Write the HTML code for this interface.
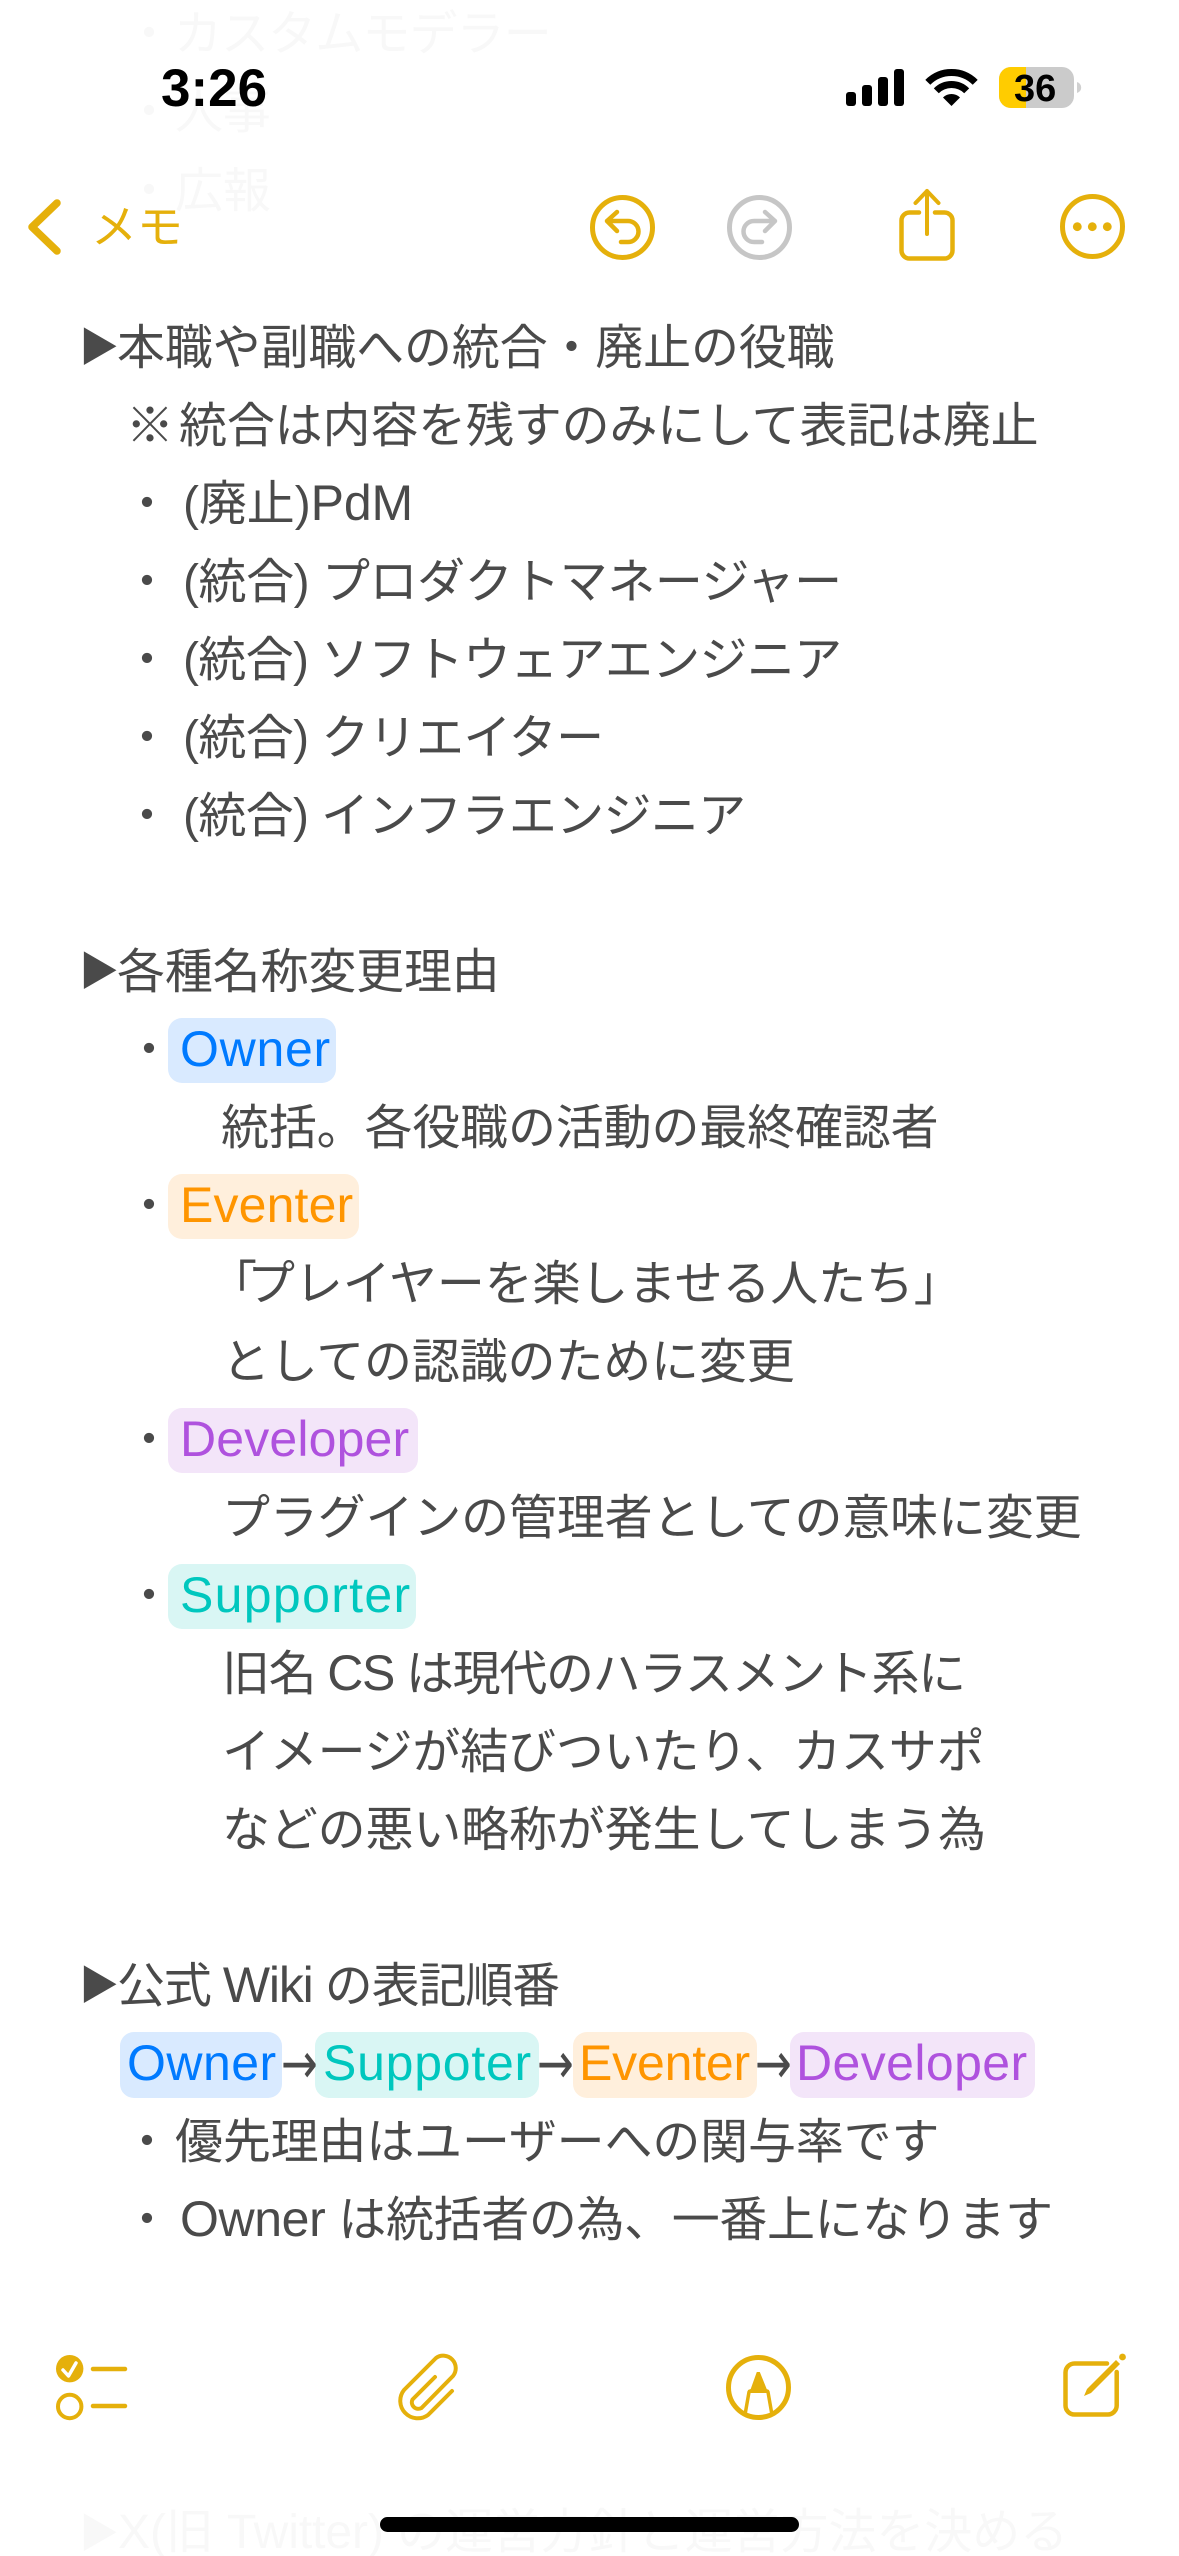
<!DOCTYPE html>
<html lang="ja"><head><meta charset="utf-8"><title>メモ</title>
<style>
html,body{margin:0;padding:0;background:#fff;width:1179px;height:2556px;overflow:hidden}
svg{display:block}
text{font-family:"Liberation Sans","Noto Sans CJK JP",sans-serif;font-size:48px;fill:#4a4a4a;letter-spacing:-.17px}
.l{font-size:50px}
.t{font-size:40px;letter-spacing:0}
.a{font-family:"DejaVu Sans",sans-serif;font-size:44px;letter-spacing:0}
.g text{fill:#f8f8f8}
.y{fill:none;stroke:#e5b00b;stroke-linecap:round;stroke-linejoin:round}
.n{fill:none;stroke:#c6c6c6;stroke-linecap:round;stroke-linejoin:round}
</style></head><body>
<svg width="1179" height="2556" viewBox="0 0 1179 2556" xmlns="http://www.w3.org/2000/svg">
<rect width="1179" height="2556" fill="#fff"/>
<!-- ghost text -->
<g class="g">
<text x="125" y="50">・</text><text x="174" y="50" style="letter-spacing:-.9px">カスタムモデラー</text>
<text x="125" y="128">・</text><text x="175" y="128">人事</text>
<text x="125" y="207">・</text><text x="175" y="207">広報</text>
<text x="79" y="2547" class="t">▶</text><text x="118" y="2548" textLength="950">X(旧 Twitter) の運営方針と運営方法を決める</text>
</g>
<!-- status bar -->
<text x="161" y="106" style="font-size:53px;font-weight:bold;fill:#000;letter-spacing:0">3:26</text>
<g fill="#000">
<rect x="846" y="92" width="10" height="14" rx="3"/>
<rect x="862" y="85" width="10" height="21" rx="3"/>
<rect x="878" y="77" width="10" height="29" rx="3"/>
<rect x="894" y="69" width="10" height="37" rx="3"/>
</g>
<g fill="none" stroke="#000" stroke-width="7">
<path d="M927.8 82.3 A33.5 33.5 0 0 1 975.2 82.3"/>
<path d="M936.3 90.8 A21.5 21.5 0 0 1 966.7 90.8"/>
</g>
<path d="M943 97.5 A12 12 0 0 1 960 97.5 L951.5 106Z" fill="#000"/>
<rect x="999" y="67" width="75" height="41" rx="12" fill="#cbcbcb"/>
<path d="M1026 67H1011A12 12 0 0 0 999 79V96A12 12 0 0 0 1011 108H1026Z" fill="#ffcc00"/>
<path d="M1077 82A7 6 0 0 1 1077 93Z" fill="#d0d0d0"/>
<text x="1014" y="101" style="font-size:38px;font-weight:bold;fill:#000;letter-spacing:0">36</text>
<!-- nav -->
<path class="y" stroke-width="7.5" d="M57 203 L32 227 L57 251"/>
<text x="91" y="243" style="font-size:46px;fill:#e5b00b;letter-spacing:0">メモ</text>
<circle class="y" stroke-width="5" cx="622.5" cy="227.5" r="30"/>
<path class="y" stroke-width="4.5" d="M617 212 L607 221 L617 231 M607 221 H628 A10.5 10.5 0 0 1 628 242 H621"/>
<circle class="n" stroke-width="5" cx="759.5" cy="227.5" r="30"/>
<path class="n" stroke-width="4.5" d="M765 212 L775 221 L765 231 M775 221 H754 A10.5 10.5 0 0 0 754 242 H762"/>
<path class="y" stroke-width="4.5" stroke-linecap="butt" d="M919 212.5 H909.5 A8 8 0 0 0 901.5 220.5 V250.5 A8 8 0 0 0 909.5 258.5 H944.5 A8 8 0 0 0 952.5 250.5 V220.5 A8 8 0 0 0 944.5 212.5 H935"/>
<path class="y" stroke-width="4" d="M927 234 V191 M915.5 203 L927 191 L938.5 203"/>
<circle class="y" stroke-width="5" cx="1092.5" cy="226.5" r="30"/>
<g fill="#e5b00b"><circle cx="1077.3" cy="226.7" r="4.4"/><circle cx="1092.3" cy="226.7" r="4.4"/><circle cx="1107.3" cy="226.7" r="4.4"/></g>
<!-- body -->
<text x="79" y="361" class="t">▶</text><text x="117" y="364">本職や副職への統合・廃止の役職</text>
<text x="126" y="442">※</text><text x="179" y="442">統合は内容を残すのみにして表記は廃止</text>
<text x="123" y="520">・</text><text x="183" y="520" textLength="230">(廃止)<tspan class="l">PdM</tspan></text>
<text x="123" y="598">・</text><text x="183" y="598" textLength="659">(統合) プロダクトマネージャー</text>
<text x="123" y="676">・</text><text x="183" y="676" textLength="659">(統合) ソフトウェアエンジニア</text>
<text x="123" y="754">・</text><text x="183" y="754" textLength="421">(統合) クリエイター</text>
<text x="123" y="832">・</text><text x="183" y="832" textLength="563">(統合) インフラエンジニア</text>
<text x="79" y="985" class="t">▶</text><text x="117" y="988">各種名称変更理由</text>
<text x="125" y="1066">・</text>
<rect x="168" y="1018" width="168" height="65" rx="14" fill="#d9eaff"/>
<text x="180" y="1066" class="l" style="fill:#007aff" textLength="150">Owner</text>
<text x="221" y="1144">統括。各役職の活動の最終確認者</text>
<text x="125" y="1222">・</text>
<rect x="168" y="1174" width="191" height="65" rx="14" fill="#ffefdc"/>
<text x="180" y="1222" class="l" style="fill:#ff9500" textLength="173">Eventer</text>
<text x="209" y="1300">「</text><text x="247" y="1300">プレイヤーを楽しませる人たち」</text>
<text x="222" y="1378">としての認識のために変更</text>
<text x="125" y="1456">・</text>
<rect x="168" y="1408" width="250" height="65" rx="14" fill="#f3e5f9"/>
<text x="180" y="1456" class="l" style="fill:#af52de" textLength="229">Developer</text>
<text x="222" y="1534">プラグインの管理者としての意味に変更</text>
<text x="125" y="1612">・</text>
<rect x="168" y="1564" width="248" height="65" rx="14" fill="#d9f6f4"/>
<text x="180" y="1612" class="l" style="fill:#00c7be" textLength="230">Supporter</text>
<text x="222" y="1690" textLength="744">旧名 <tspan class="l">CS</tspan> は現代のハラスメント系に</text>
<text x="222" y="1768">イメージが結びついたり、カスサポ</text>
<text x="222" y="1846">などの悪い略称が発生してしまう為</text>
<text x="79" y="1999" class="t">▶</text><text x="117" y="2002" textLength="443">公式 <tspan class="l">Wiki</tspan> の表記順番</text>
<rect x="120" y="2032" width="162" height="66" rx="14" fill="#d9eaff"/>
<rect x="315" y="2032" width="224" height="66" rx="14" fill="#d9f6f4"/>
<rect x="573" y="2032" width="184" height="66" rx="14" fill="#ffefdc"/>
<rect x="790" y="2032" width="245" height="66" rx="14" fill="#f3e5f9"/>
<text x="127" y="2080" class="l" style="fill:#007aff" textLength="149">Owner</text>
<text x="323" y="2080" class="l" style="fill:#00c7be" textLength="208">Suppoter</text>
<text x="579" y="2080" class="l" style="fill:#ff9500" textLength="171">Eventer</text>
<text x="796" y="2080" class="l" style="fill:#af52de" textLength="231">Developer</text>
<text transform="translate(281,2062) scale(1,1.3)" y="16" class="a">→</text>
<text transform="translate(537,2062) scale(1,1.3)" y="16" class="a">→</text>
<text transform="translate(755,2062) scale(1,1.3)" y="16" class="a">→</text>
<text x="123" y="2158">・</text><text x="175" y="2158">優先理由はユーザーへの関与率です</text>
<text x="123" y="2236">・</text><text x="180" y="2236" textLength="873"><tspan class="l">Owner</tspan> は統括者の為、一番上になります</text>
<!-- toolbar -->
<circle cx="69.7" cy="2368.7" r="13.7" fill="#e5b00b"/>
<path d="M63 2370 L68.5 2376 L76 2363" fill="none" stroke="#fff" stroke-width="3.5" stroke-linecap="round" stroke-linejoin="round"/>
<circle class="y" stroke-width="4" cx="69.7" cy="2406.5" r="11.7"/>
<path class="y" stroke-width="4.5" d="M93 2369 H125 M93 2406 H125"/>
<path class="y" stroke-width="4" d="M435 2377 L412.5 2399.5 A6.5 6.5 0 0 0 421.5 2408 L453 2376 A12.5 12.5 0 0 0 436 2358 L404 2390 A17.5 17.5 0 0 0 428 2415 L452 2391"/>
<circle class="y" stroke-width="5" cx="758.5" cy="2387.5" r="30"/>
<path d="M756.8 2372 H759.8 L766.7 2389 L769 2390 V2393 H748 V2390 L750.7 2389 Z" fill="#e5b00b"/>
<path class="y" stroke-width="3.5" stroke-linecap="butt" d="M749 2392 L745.5 2412 M768 2392 L771.5 2412"/>
<path class="y" stroke-width="4.5" stroke-linecap="butt" d="M1107 2363.5 H1074.5 A9 9 0 0 0 1065.5 2372.5 V2405.5 A9 9 0 0 0 1074.5 2414.5 H1107.7 A9 9 0 0 0 1116.7 2405.5 V2372"/>
<path d="M1084 2396 L1087 2389 L1116 2360 L1120 2364 L1091 2393 Z" fill="#e5b00b"/>
<circle cx="1122.5" cy="2357" r="3.4" fill="#e5b00b"/>
<rect x="380" y="2517" width="419" height="15" rx="7.5" fill="#000"/>
</svg>
</body></html>
